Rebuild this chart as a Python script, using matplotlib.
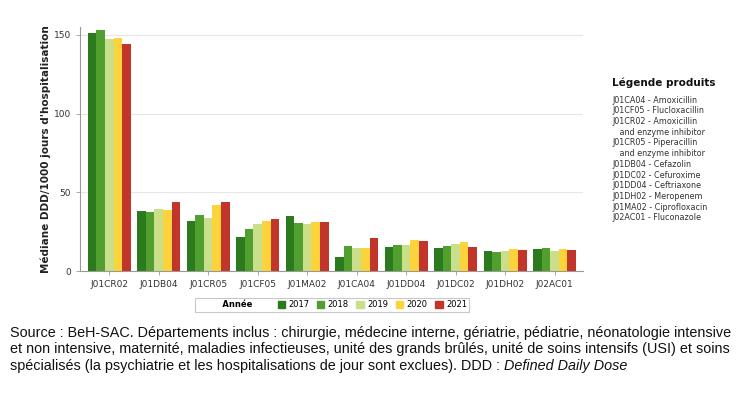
import numpy as np
import matplotlib.pyplot as plt
from matplotlib.patches import Patch

# Produits (ordre de l'axe x)
produits = ['J01CR02', 'J01DB04', 'J01CR05', 'J01CF05', 'J01MA02',
            'J01CA04', 'J01DD04', 'J01DC02', 'J01DH02', 'J02AC01']
annees = ['2017', '2018', '2019', '2020', '2021']
couleurs = ['#2b7a1d', '#519f2f', '#c9df8a', '#fdd33c', '#c1352a']

# Médiane DDD/1000 jours d'hospitalisation, par année
v2017 = [151.5, 38.5, 31.9, 21.9, 35.1, 9.1, 15.1, 14.9, 12.5, 14.2]
v2018 = [153.2, 37.8, 35.9, 27.0, 30.8, 16.1, 16.8, 15.7, 12.3, 14.4]
v2019 = [147.2, 39.7, 34.0, 29.7, 29.7, 14.7, 16.6, 17.2, 12.7, 12.7]
v2020 = [147.9, 38.9, 42.1, 31.7, 31.2, 14.7, 19.8, 18.7, 14.2, 13.8]
v2021 = [144.5, 44.2, 44.2, 33.4, 31.2, 20.8, 19.3, 15.5, 13.2, 13.2]

legende_produits = [
    'J01CA04 - Amoxicillin',
    'J01CF05 - Flucloxacillin',
    'J01CR02 - Amoxicillin',
    '   and enzyme inhibitor',
    'J01CR05 - Piperacillin',
    '   and enzyme inhibitor',
    'J01DB04 - Cefazolin',
    'J01DC02 - Cefuroxime',
    'J01DD04 - Ceftriaxone',
    'J01DH02 - Meropenem',
    'J01MA02 - Ciprofloxacin',
    'J02AC01 - Fluconazole',
]

lignes_source = [
    "Source : BeH-SAC. Départements inclus : chirurgie, médecine interne, gériatrie, pédiatrie, néonatologie intensive",
    "et non intensive, maternité, maladies infectieuses, unité des grands brûlés, unité de soins intensifs (USI) et soins",
    "spécialisés (la psychiatrie et les hospitalisations de jour sont exclues). DDD : ",
]
source_italique = 'Defined Daily Dose'

series = [v2017, v2018, v2019, v2020, v2021]

fig = plt.figure(figsize=(7.5, 3.93), dpi=100)
ax = fig.add_axes([0.107, 0.31, 0.67, 0.621])

x = np.arange(len(produits))
w = 0.174
for i, vals in enumerate(series):
    ax.bar(x + (i - 2) * w, vals, w, color=couleurs[i], label=annees[i], zorder=2)

ax.set_xlim(-0.585, 9.57)
ax.set_ylim(0, 155)
ax.set_yticks([0, 50, 100, 150])
ax.set_xticks(x)
ax.set_xticklabels(produits)
ax.tick_params(labelsize=6.5, colors='#333333', length=3, width=0.6)
ax.tick_params(axis='x', color='#999999')
ax.tick_params(axis='y', color='#999999')
ax.grid(axis='y', color='#e6e6e6', lw=0.8, zorder=0)
for s in ['top', 'right']:
    ax.spines[s].set_visible(False)
for s in ['left', 'bottom']:
    ax.spines[s].set_color('#999999')
    ax.spines[s].set_linewidth(0.8)
ax.set_ylabel("Médiane DDD/1000 jours d'hospitalisation", fontsize=7.5,
              fontweight='bold', color='#222222', labelpad=2)

# légende des années
handles = [Patch(visible=False)] + [Patch(color=c) for c in couleurs]
leg = fig.legend(handles, ['Année'] + annees, ncol=6, loc='center',
                 bbox_to_anchor=(0.443, 0.224), fontsize=6, frameon=True,
                 fancybox=False, edgecolor='#bbbbbb', handlelength=0.9,
                 handleheight=0.9, handletextpad=0.4, columnspacing=0.9,
                 borderpad=0.25)
leg.get_frame().set_linewidth(0.8)
leg.get_texts()[0].set_fontweight('bold')
leg.get_texts()[0].set_text('     Année      ')

# légende produits
fig.text(0.816, 0.79, 'Légende produits', fontsize=7.5, fontweight='bold',
         color='#111111', ha='left', va='center')
for k, t in enumerate(legende_produits):
    fig.text(0.816, 0.745 - k * 0.0272, t, fontsize=5.8, color='#333333',
             ha='left', va='center')

# note de source : taille ajustée pour que la première ligne tienne dans ~720 px
fam = ['Liberation Sans', 'DejaVu Sans']
r = fig.canvas.get_renderer()
tmp = fig.text(0, 0, lignes_source[0], fontsize=10, family=fam)
w0 = tmp.get_window_extent(r).width
tmp.remove()
fs = 10 * 718 / w0

x0 = 0.013
ys = [333, 349.5, 366]
for ligne, yp in zip(lignes_source, ys):
    fig.text(x0, 1 - yp / 393, ligne, fontsize=fs, family=fam, ha='left',
             va='center', color='#111111')
tmp = fig.text(0, 0, lignes_source[2], fontsize=fs, family=fam)
wl = tmp.get_window_extent(r).width
tmp.remove()
fig.text(x0 + wl / 750, 1 - ys[2] / 393, source_italique, fontsize=fs,
         family=fam, style='italic', ha='left', va='center', color='#111111')

fig.savefig('out.png', dpi=100)
